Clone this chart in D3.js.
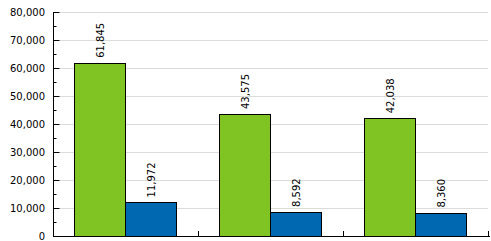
<!DOCTYPE html>
<html>
<head>
<meta charset="utf-8">
<script src="https://cdn.jsdelivr.net/npm/d3@7"></script>
<style>
  body { margin: 0; background: #fff; }
  text { font-family: "DejaVu Sans", Verdana, sans-serif; font-size: 10px; fill: #000; }
</style>
</head>
<body>
<div id="chart"></div>
<script>
// data
var categories = ["A", "B", "C"];
var seriesNames = ["s1", "s2"];
var seriesOne = [61845, 43575, 42038];
var seriesTwo = [11972, 8592, 8360];
var colors = ["#80c423", "#0067b1"];

var width = 491, height = 241;
var plotLeft = 53, plotRight = 488, plotTop = 12, plotBottom = 236;

var svg = d3.select("#chart")
  .append("svg")
    .attr("width", width)
    .attr("height", height);

var y = d3.scaleLinear()
  .domain([0, 80000])
  .range([plotBottom, plotTop]);

var x = d3.scaleBand()
  .domain(categories)
  .range([plotLeft, plotRight]);

var xs = d3.scaleBand()
  .domain(seriesNames)
  .range([0, x.bandwidth()])
  .paddingOuter(0.42);

// gridlines
svg.append("g")
  .selectAll("line")
  .data(y.ticks(8).filter(d => d > 0))
  .enter()
  .append("line")
    .attr("x1", plotLeft)
    .attr("x2", plotRight)
    .attr("y1", d => Math.round(y(d)) + 0.5)
    .attr("y2", d => Math.round(y(d)) + 0.5)
    .attr("stroke", "#dcdcdc");

// bars
var data = [];
categories.forEach((c, i) => {
  data.push({cat: c, s: "s1", v: seriesOne[i], col: colors[0]});
  data.push({cat: c, s: "s2", v: seriesTwo[i], col: colors[1]});
});

svg.append("g")
  .selectAll("rect")
  .data(data)
  .enter()
  .append("rect")
    .attr("x", d => Math.floor(x(d.cat) + xs(d.s)) + 0.5)
    .attr("y", d => Math.round(y(d.v)) + 0.5)
    .attr("width", d => Math.round(xs.bandwidth()))
    .attr("height", d => plotBottom - Math.round(y(d.v)))
    .attr("fill", d => d.col)
    .attr("stroke", "#000");

// value labels
svg.append("g")
  .selectAll("text")
  .data(data)
  .enter()
  .append("text")
    .attr("transform", d => "translate(" + (x(d.cat) + xs(d.s) + xs.bandwidth() / 2 + 4) + "," + (y(d.v) - 5) + ") rotate(-90)")
    .text(d => d3.format(",")(d.v));

// y axis
svg.append("g")
  .attr("transform", "translate(" + (plotLeft + 0.5) + ",0)")
  .call(d3.axisRight(y).ticks(8).tickSize(6).tickFormat(""))
  .select(".domain").remove();
svg.append("g")
  .attr("transform", "translate(" + (plotLeft + 0.5) + ",0)")
  .call(d3.axisRight(y).ticks(16).tickSize(3).tickFormat(""))
  .select(".domain").remove();
svg.append("line")
  .attr("x1", plotLeft + 0.5).attr("x2", plotLeft + 0.5)
  .attr("y1", plotTop).attr("y2", plotBottom + 1)
  .attr("stroke", "#000");

svg.append("g")
  .selectAll("text")
  .data(y.ticks(8))
  .enter()
  .append("text")
    .attr("x", plotLeft - 8)
    .attr("y", d => y(d) + 4)
    .style("text-anchor", "end")
    .text(d => d3.format(",")(d));

// x axis
svg.append("line")
  .attr("x1", plotLeft).attr("x2", width - 1)
  .attr("y1", plotBottom + 0.5).attr("y2", plotBottom + 0.5)
  .attr("stroke", "#000");
svg.append("g")
  .selectAll("line")
  .data(categories)
  .enter()
  .append("line")
    .attr("x1", d => Math.round(x(d) + x.bandwidth()) + 0.5)
    .attr("x2", d => Math.round(x(d) + x.bandwidth()) + 0.5)
    .attr("y1", plotBottom - 5)
    .attr("y2", plotBottom)
    .attr("stroke", "#000");
</script>
</body>
</html>
